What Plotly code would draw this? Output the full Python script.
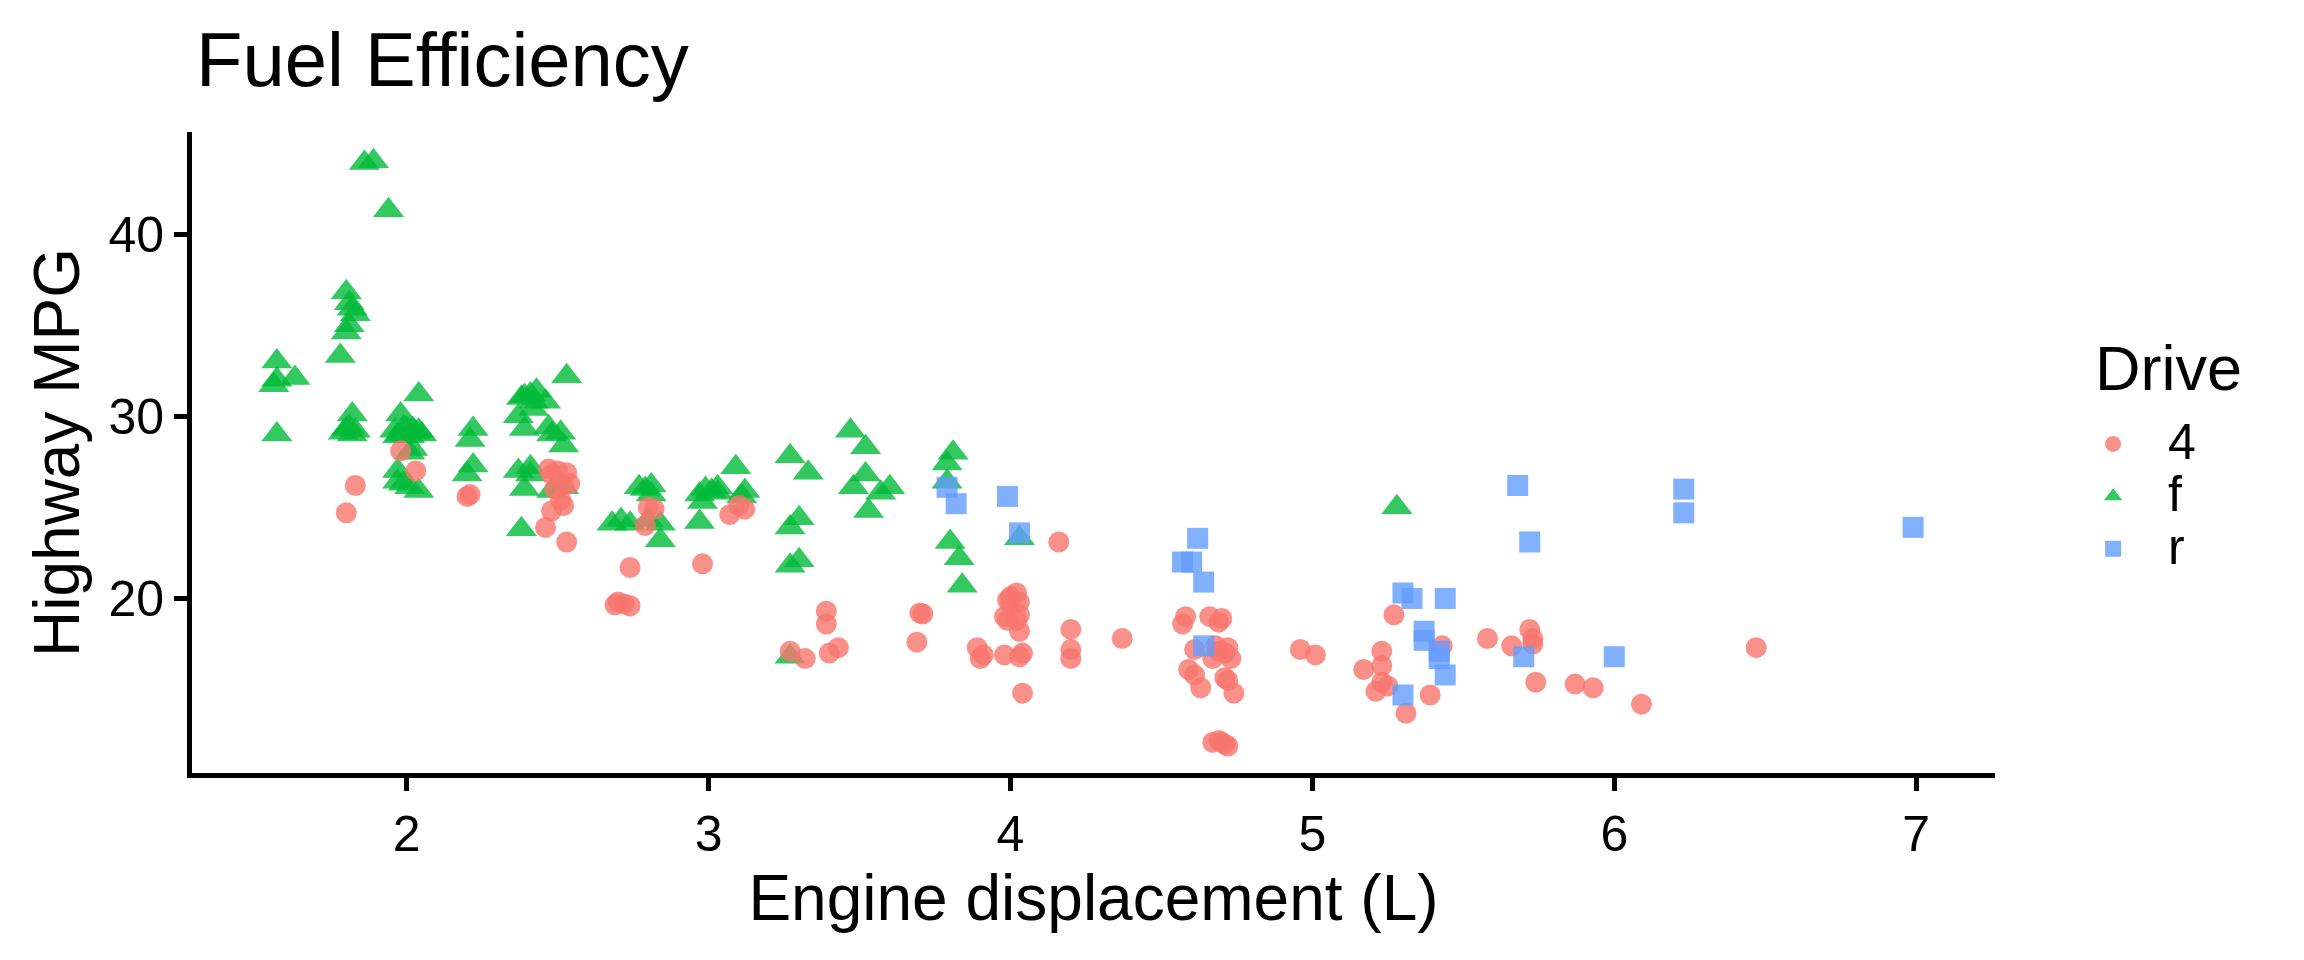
import plotly.graph_objects as go

# drive = 4 (four wheel drive)
x4 = [1.83, 1.80, 1.98, 2.03, 2.20, 2.21,
      2.48, 2.53, 2.50, 2.47, 2.52, 2.49, 2.54, 2.51, 2.48, 2.52, 2.46, 2.53,
      2.69, 2.72, 2.74, 2.70, 2.74, 2.80, 2.79, 2.82, 2.98, 3.07, 3.12, 3.10,
      3.27, 3.32, 3.39, 3.39, 3.40, 3.43, 3.69, 3.70, 3.71, 3.89, 3.90, 3.91,
      4.02, 4.00, 3.99, 4.03, 4.00, 3.98, 4.03, 3.99, 4.02, 4.03, 3.98, 4.04, 4.03, 4.04,
      4.16, 4.20, 4.20, 4.20, 4.37,
      4.58, 4.57, 4.61, 4.59, 4.61, 4.63,
      4.66, 4.69, 4.68, 4.71, 4.73, 4.67, 4.71, 4.72, 4.74, 4.67, 4.69, 4.71, 4.72, 4.70, 4.70, 4.69, 4.72,
      4.96, 5.01, 5.23, 5.23, 5.17, 5.21, 5.23, 5.25, 5.27, 5.31, 5.39, 5.43, 5.58,
      5.66, 5.72, 5.73, 5.73, 5.74, 5.87, 5.93, 6.09, 6.47]
y4 = [26.2, 24.7, 28.1, 27.0, 25.6, 25.7,
      26.8, 26.9, 27.0, 27.1, 26.2, 26.0, 26.3, 25.4, 24.8, 25.1, 23.9, 23.1,
      19.65, 19.7, 19.6, 19.8, 21.7, 25.0, 24.0, 24.9, 21.9, 24.6, 24.9, 25.1,
      17.1, 16.7, 19.3, 18.6, 17.0, 17.3, 17.6, 19.2, 19.15, 17.3, 16.7, 16.9,
      20.3, 20.1, 19.9, 19.8, 19.7, 19.0, 19.1, 18.8, 18.8, 18.2, 16.9, 17.0, 16.8, 14.8,
      23.1, 18.3, 17.2, 16.7, 17.8,
      19.0, 18.6, 17.2, 16.1, 15.8, 15.1,
      19.0, 18.7, 17.4, 17.0, 16.7, 16.7, 15.65, 15.5, 14.8, 12.1, 12.2, 12.0, 11.9, 12.1, 18.9, 17.1, 17.3,
      17.2, 16.9, 17.1, 16.3, 16.1, 14.9, 15.4, 15.2, 19.1, 13.7, 14.7, 17.4, 17.8,
      17.4, 18.3, 17.8, 17.5, 15.4, 15.3, 15.1, 14.2, 17.3]

# drive = f (front wheel drive)
xf = [1.57, 1.57, 1.56, 1.63, 1.57,
      1.80, 1.81, 1.83, 1.81, 1.80, 1.78, 1.82,
      1.82, 1.80, 1.83, 1.79, 1.81, 1.82,
      1.86, 1.89, 1.94,
      2.04, 1.98, 1.96, 1.98, 2.00, 2.01, 2.03, 2.05, 1.99, 2.02, 1.97, 2.04, 2.02, 2.01, 1.97, 1.99, 2.04, 2.01, 1.97,
      2.22, 2.21, 2.22, 2.20,
      2.43, 2.38, 2.42, 2.41, 2.39, 2.37, 2.42, 2.39, 2.41, 2.41, 2.37, 2.39, 2.38,
      2.53, 2.46, 2.47, 2.48, 2.52, 2.51, 2.52, 2.48,
      2.77, 2.81, 2.81, 2.79, 2.68, 2.71, 2.74, 2.80, 2.84, 2.84,
      2.97, 3.01, 3.03, 2.99, 2.98, 2.97, 3.03,
      3.09, 3.12, 3.11,
      3.27, 3.33, 3.30, 3.27, 3.30, 3.27, 3.27,
      3.47, 3.52, 3.52, 3.48, 3.60, 3.57, 3.53,
      3.81, 3.79, 3.79, 3.80, 3.83, 3.84,
      4.03, 5.28]
yf = [33.0, 32.0, 31.7, 32.1, 29.0,
      36.8, 36.2, 35.6, 35.0, 34.6, 33.3, 35.9,
      30.1, 29.3, 29.2, 29.1, 29.4, 29.0,
      43.9, 44.0, 41.3,
      31.2, 30.1, 29.2, 29.0, 29.3, 28.9, 29.1, 29.0, 29.4, 29.3, 28.9, 29.2, 28.2, 28.0, 27.0, 26.3, 25.9, 26.1, 26.4,
      29.3, 28.7, 27.3, 26.8,
      31.4, 31.0, 30.8, 31.2, 31.1, 30.0, 30.4, 29.3, 27.2, 26.8, 27.0, 26.0, 23.8,
      32.2, 30.8, 29.4, 29.0, 28.4, 29.1, 26.1, 25.9,
      26.1, 26.2, 25.7, 26.0, 24.1, 24.3, 24.1, 24.3, 24.1, 23.2,
      25.7, 25.9, 26.1, 26.0, 25.3, 24.2, 25.8,
      27.2, 25.9, 25.6,
      27.8, 26.9, 24.4, 23.9, 22.1, 21.8, 16.8,
      29.2, 28.3, 26.8, 26.1, 26.1, 25.8, 24.8,
      28.0, 27.4, 26.4, 23.1, 22.2, 20.7,
      23.3, 25.0]

# drive = r (rear wheel drive)
xr = [3.79, 3.82, 3.99, 4.03, 4.62, 4.57, 4.60, 4.64, 4.64, 5.30, 5.33, 5.44, 5.37,
      5.37, 5.42, 5.42, 5.44, 5.30, 5.68, 5.72, 5.70, 6.00, 6.23, 6.23, 6.99]
yr = [26.1, 25.2, 25.6, 23.6, 23.3, 22.0, 22.0, 20.9, 17.4, 20.3, 20.0, 20.0, 18.2,
      17.7, 17.1, 16.7, 15.8, 14.7, 26.2, 23.1, 16.8, 16.8, 26.0, 24.7, 23.9]

x_ticks = [2, 3, 4, 5, 6, 7]
y_ticks = [20, 30, 40]

FONT = "Arial, Liberation Sans, sans-serif"

# the page body has an 8px margin, so the figure is 16px smaller than the window
W, H = 2288, 944


def big(label):
    # legend row spacing follows the legend font size; show the label larger
    return '<span style="font-size:50px">%s</span>' % label


fig = go.Figure()
# drawing order f -> 4 -> r, legend order 4, f, r
fig.add_trace(go.Scatter(x=xf, y=yf, mode="markers", name=big("f"), legendrank=2,
                         marker=dict(color="#00BA38", symbol="triangle-up", size=27,
                                     opacity=0.8, line=dict(width=0))))
fig.add_trace(go.Scatter(x=x4, y=y4, mode="markers", name=big("4"), legendrank=1,
                         marker=dict(color="#F8766D", symbol="circle", size=21,
                                     opacity=0.8, line=dict(width=0))))
fig.add_trace(go.Scatter(x=xr, y=yr, mode="markers", name=big("r"), legendrank=3,
                         marker=dict(color="#619CFF", symbol="square", size=21,
                                     opacity=0.8, line=dict(width=0))))

axis_common = dict(showline=True, linecolor="black", linewidth=5, ticks="outside",
                   ticklen=13, tickwidth=5, tickcolor="black", showgrid=False,
                   zeroline=False, tickfont=dict(size=50, color="black", family=FONT))

fig.update_layout(
    width=W, height=H,
    template="simple_white",
    plot_bgcolor="white", paper_bgcolor="white",
    font=dict(family=FONT, color="black"),
    margin=dict(l=184, r=301, t=124, b=179, pad=0),
    title=dict(text="Fuel Efficiency", font=dict(size=76, color="black", family=FONT),
               x=188 / W, xref="container", xanchor="left",
               y=1 - 51 / H, yref="container", yanchor="middle"),
    xaxis=dict(range=[1.289, 7.261], tickvals=x_ticks,
               title=dict(text="Engine displacement (L)", font=dict(size=64), standoff=0),
               **axis_common),
    yaxis=dict(range=[10.42, 45.6], tickvals=y_ticks,
               title=dict(text="Highway MPG", font=dict(size=64), standoff=9),
               **axis_common),
    legend=dict(x=1.035, xanchor="left", y=0.562, yanchor="top",
                itemwidth=100, font=dict(size=38, color="black", family=FONT),
                traceorder="normal", bgcolor="rgba(0,0,0,0)"),
    annotations=[dict(text="Drive", xref="paper", yref="paper", x=1.0544, y=0.6318,
                      xanchor="left", yanchor="middle", showarrow=False,
                      font=dict(size=63, color="black", family=FONT))],
)

fig.write_html("out.html")
